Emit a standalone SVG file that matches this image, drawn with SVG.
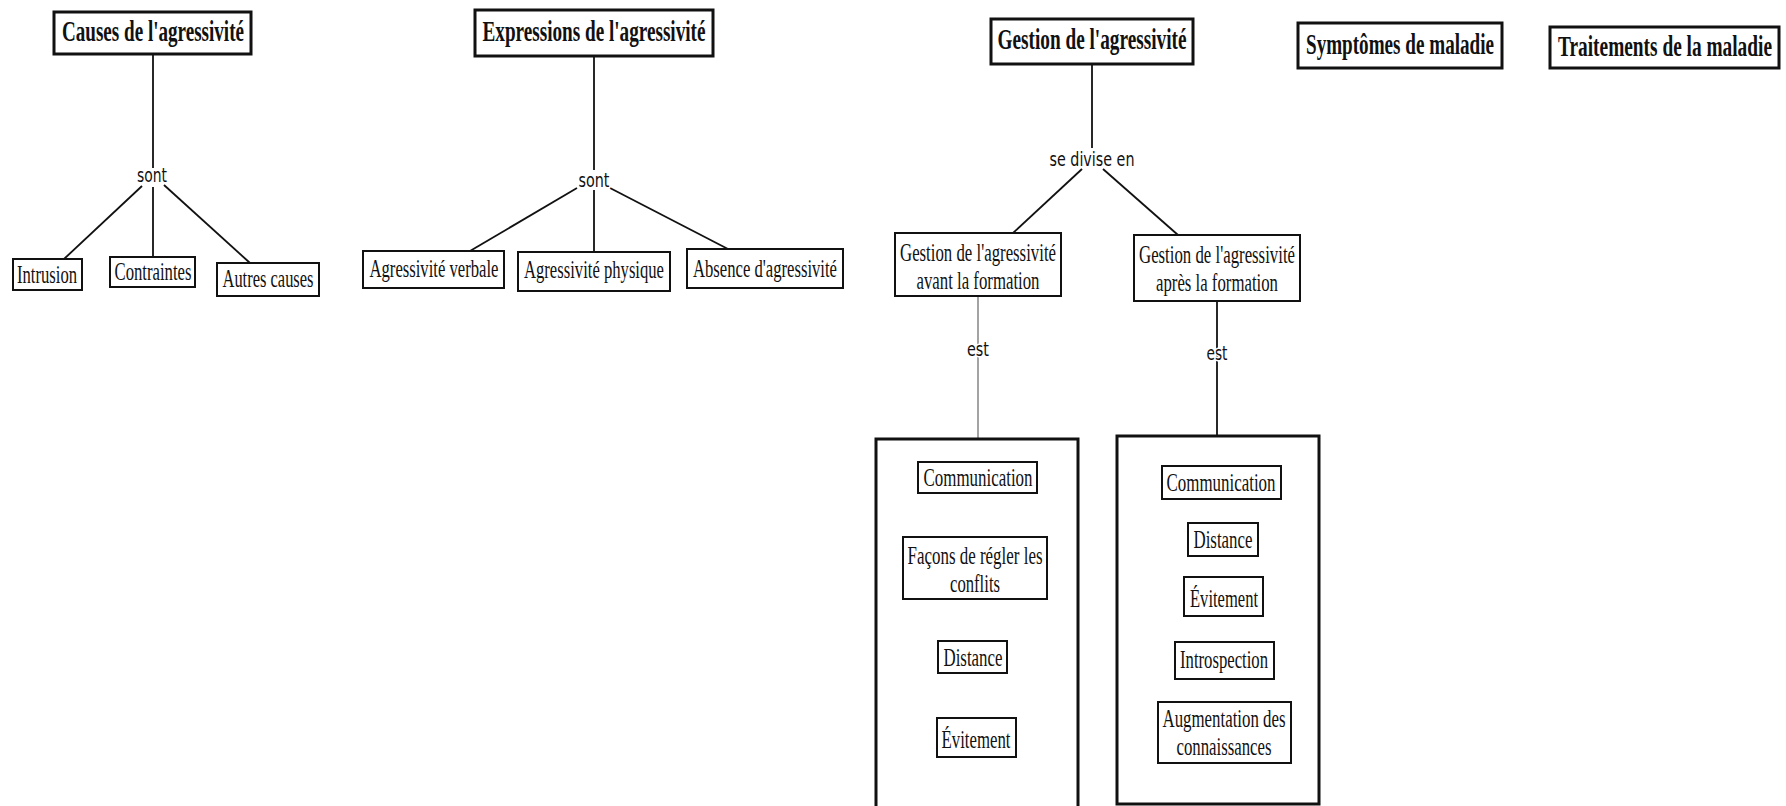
<svg xmlns="http://www.w3.org/2000/svg" width="1786" height="806" viewBox="0 0 1786 806">
<style>
  .bg{fill:#ffffff}
  .title rect{fill:#ffffff;stroke:#111;stroke-width:3}
  .title text{font-family:"Liberation Serif","Times New Roman",serif;font-weight:bold;font-size:29px;fill:#111;text-anchor:middle}
  .node rect{fill:#ffffff;stroke:#111;stroke-width:2}
  .node text{font-family:"Liberation Serif","Times New Roman",serif;font-size:26px;fill:#111;text-anchor:middle}
  .group rect{fill:none;stroke:#111;stroke-width:3}
  .conn line{stroke:#111;stroke-width:1.8}
  .conn line.thin{stroke:#666;stroke-width:1.2}
  .lbl{font-family:"DejaVu Sans","Liberation Sans",sans-serif;font-size:20px;fill:#111;text-anchor:middle;stroke:#fff;stroke-width:3;paint-order:stroke}
</style>
<rect class="bg" x="0" y="0" width="1786" height="806"/>

<g id="connectors" class="conn">
  <line x1="153" y1="54" x2="153" y2="168"/>
  <line x1="142" y1="186" x2="64" y2="259"/>
  <line x1="153" y1="187" x2="153" y2="257"/>
  <line x1="164" y1="185" x2="250" y2="263"/>

  <line x1="594" y1="56" x2="594" y2="170"/>
  <line x1="577" y1="188" x2="470" y2="251"/>
  <line x1="594" y1="190" x2="594" y2="252"/>
  <line x1="610" y1="188" x2="728" y2="249"/>

  <line x1="1092" y1="64" x2="1092" y2="148"/>
  <line x1="1082" y1="169" x2="1013" y2="233"/>
  <line x1="1103" y1="169" x2="1178" y2="235"/>

  <line class="thin" x1="978" y1="296" x2="978" y2="438"/>
  <line x1="1217" y1="301" x2="1217" y2="435"/>

  <text class="lbl" x="152" y="182" textLength="30" lengthAdjust="spacingAndGlyphs">sont</text>
  <text class="lbl" x="594" y="187" textLength="31" lengthAdjust="spacingAndGlyphs">sont</text>
  <text class="lbl" x="1092" y="166" textLength="85" lengthAdjust="spacingAndGlyphs">se divise en</text>
  <text class="lbl" x="978" y="356" textLength="22" lengthAdjust="spacingAndGlyphs">est</text>
  <text class="lbl" x="1217" y="360" textLength="21" lengthAdjust="spacingAndGlyphs">est</text>
</g>

<g id="causes" class="title">
  <rect x="54" y="12" width="197" height="42"/>
  <text x="153" y="41" textLength="182" lengthAdjust="spacingAndGlyphs">Causes de l'agressivité</text>
</g>
<g id="expressions" class="title">
  <rect x="475" y="10" width="238" height="46"/>
  <text x="594" y="41" textLength="223" lengthAdjust="spacingAndGlyphs">Expressions de l'agressivité</text>
</g>
<g id="gestion" class="title">
  <rect x="991" y="19" width="202" height="45"/>
  <text x="1092" y="49" textLength="189" lengthAdjust="spacingAndGlyphs">Gestion de l'agressivité</text>
</g>
<g id="symptomes" class="title">
  <rect x="1298" y="23" width="204" height="45"/>
  <text x="1400" y="54" textLength="188" lengthAdjust="spacingAndGlyphs">Symptômes de maladie</text>
</g>
<g id="traitements" class="title">
  <rect x="1550" y="27" width="229" height="41"/>
  <text x="1665" y="56" textLength="214" lengthAdjust="spacingAndGlyphs">Traitements de la maladie</text>
</g>

<g id="intrusion" class="node">
  <rect x="13" y="259" width="69" height="31"/>
  <text x="47" y="283" textLength="60" lengthAdjust="spacingAndGlyphs">Intrusion</text>
</g>
<g id="contraintes" class="node">
  <rect x="110" y="257" width="85" height="30"/>
  <text x="153" y="280" textLength="77" lengthAdjust="spacingAndGlyphs">Contraintes</text>
</g>
<g id="autres-causes" class="node">
  <rect x="217" y="263" width="102" height="33"/>
  <text x="268" y="287" textLength="91" lengthAdjust="spacingAndGlyphs">Autres causes</text>
</g>

<g id="agr-verbale" class="node">
  <rect x="363" y="251" width="141" height="37"/>
  <text x="434" y="277" textLength="129" lengthAdjust="spacingAndGlyphs">Agressivité verbale</text>
</g>
<g id="agr-physique" class="node">
  <rect x="518" y="252" width="152" height="39"/>
  <text x="594" y="278" textLength="140" lengthAdjust="spacingAndGlyphs">Agressivité physique</text>
</g>
<g id="absence" class="node">
  <rect x="687" y="249" width="156" height="39"/>
  <text x="765" y="277" textLength="144" lengthAdjust="spacingAndGlyphs">Absence d'agressivité</text>
</g>

<g id="gestion-avant" class="node">
  <rect x="895" y="233" width="166" height="63"/>
  <text x="978" y="261" textLength="156" lengthAdjust="spacingAndGlyphs">Gestion de l'agressivité</text>
  <text x="978" y="289" textLength="123" lengthAdjust="spacingAndGlyphs">avant la formation</text>
</g>
<g id="gestion-apres" class="node">
  <rect x="1134" y="235" width="166" height="66"/>
  <text x="1217" y="263" textLength="156" lengthAdjust="spacingAndGlyphs">Gestion de l'agressivité</text>
  <text x="1217" y="291" textLength="122" lengthAdjust="spacingAndGlyphs">après la formation</text>
</g>

<g id="groupe-avant" class="group">
  <rect x="876" y="439" width="202" height="380"/>
</g>
<g id="groupe-apres" class="group">
  <rect x="1117" y="436" width="202" height="368"/>
</g>

<g id="comm-avant" class="node">
  <rect x="918" y="462" width="119" height="31"/>
  <text x="978" y="486" textLength="109" lengthAdjust="spacingAndGlyphs">Communication</text>
</g>
<g id="facons" class="node">
  <rect x="903" y="537" width="144" height="62"/>
  <text x="975" y="564" textLength="135" lengthAdjust="spacingAndGlyphs">Façons de régler les</text>
  <text x="975" y="592" textLength="50" lengthAdjust="spacingAndGlyphs">conflits</text>
</g>
<g id="distance-avant" class="node">
  <rect x="938" y="641" width="69" height="32"/>
  <text x="973" y="666" textLength="59" lengthAdjust="spacingAndGlyphs">Distance</text>
</g>
<g id="evitement-avant" class="node">
  <rect x="937" y="718" width="79" height="39"/>
  <text x="976" y="748" textLength="69" lengthAdjust="spacingAndGlyphs">Évitement</text>
</g>

<g id="comm-apres" class="node">
  <rect x="1162" y="466" width="119" height="33"/>
  <text x="1221" y="491" textLength="109" lengthAdjust="spacingAndGlyphs">Communication</text>
</g>
<g id="distance-apres" class="node">
  <rect x="1188" y="523" width="70" height="33"/>
  <text x="1223" y="548" textLength="59" lengthAdjust="spacingAndGlyphs">Distance</text>
</g>
<g id="evitement-apres" class="node">
  <rect x="1184" y="577" width="79" height="39"/>
  <text x="1224" y="607" textLength="68" lengthAdjust="spacingAndGlyphs">Évitement</text>
</g>
<g id="introspection" class="node">
  <rect x="1175" y="642" width="99" height="37"/>
  <text x="1224" y="668" textLength="88" lengthAdjust="spacingAndGlyphs">Introspection</text>
</g>
<g id="augmentation" class="node">
  <rect x="1158" y="702" width="133" height="61"/>
  <text x="1224" y="727" textLength="123" lengthAdjust="spacingAndGlyphs">Augmentation des</text>
  <text x="1224" y="755" textLength="95" lengthAdjust="spacingAndGlyphs">connaissances</text>
</g>
</svg>
